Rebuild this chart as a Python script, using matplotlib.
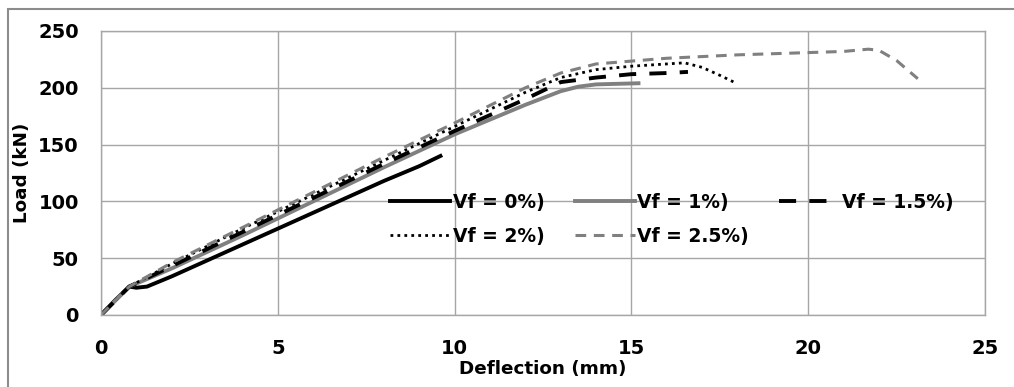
import matplotlib
matplotlib.use("Agg")
import matplotlib.pyplot as plt
from matplotlib.patches import Rectangle

plt.rcParams['font.family'] = ['DejaVu Sans']
plt.rcParams['font.weight'] = 'bold'

# load-deflection curves
x_0 = [0, 0.4, 0.8, 1.0, 1.3, 2, 3, 4, 5, 6, 7, 8, 9, 9.6]
y_0 = [0, 13, 25, 24, 25, 34, 48, 62, 76, 90, 104, 118, 131, 140]

x_1 = [0, 0.8, 2, 4, 6, 8, 10, 11, 12, 13, 13.5, 14, 15.2]
y_1 = [0, 25, 41, 70, 100, 130, 159, 172, 185, 197, 201, 203, 204]

x_15 = [0, 0.8, 2, 4, 6, 8, 10, 12, 13, 14, 15, 16, 16.6]
y_15 = [0, 25, 43, 73, 103, 133, 162, 190, 205, 209, 212, 213, 214]

x_2 = [0, 0.8, 2, 4, 6, 8, 10, 12, 13, 14, 15, 16, 16.5, 17, 17.5, 17.9]
y_2 = [0, 25, 45, 76, 106, 136, 166, 196, 209, 216, 219, 221, 222, 218, 211, 205]

x_25 = [0, 0.8, 2, 4, 6, 8, 10, 12, 13, 14, 16, 18, 20, 21, 21.7, 22, 22.5, 23.1]
y_25 = [0, 25, 46, 77, 108, 139, 169, 200, 213, 221, 226, 229, 231, 232, 234, 233, 224, 208]

labels = ['Vf = 0%)', 'Vf = 1%)', 'Vf = 1.5%)', 'Vf = 2%)', 'Vf = 2.5%)']

fig = plt.figure(figsize=(10.14, 3.87), dpi=100)
ax = fig.add_axes([101/1014, 72/387, 884/1014, 284/387])

# outer chart border
fig.patches.append(Rectangle((8/1014, -0.1), 1.2, (387 - 9)/387 + 0.1,
                             transform=fig.transFigure, fill=False,
                             edgecolor='#8c8c8c', linewidth=1.5))

grey = '#808080'
l0, = ax.plot(x_0, y_0, color='black', lw=2.8)
l1, = ax.plot(x_1, y_1, color=grey, lw=2.8)
l15, = ax.plot(x_15, y_15, color='black', lw=2.8, dashes=(4.4, 3.4))
l2, = ax.plot(x_2, y_2, color='black', lw=2.0, dashes=(1, 1.5))
l25, = ax.plot(x_25, y_25, color=grey, lw=2.2, dashes=(3.5, 2.5))

ax.set_xlim(0, 25)
ax.set_ylim(0, 250)
ax.set_xticks([0, 5, 10, 15, 20, 25])
ax.set_yticks([0, 50, 100, 150, 200, 250])
ax.grid(True, color='#a6a6a6', linewidth=1)
ax.set_axisbelow(True)
for s in ax.spines.values():
    s.set_color('#a6a6a6')
    s.set_linewidth(1)
ax.tick_params(length=0, labelsize=14, pad=17)
ax.tick_params(axis='y', pad=16)

ax.set_xlabel('Deflection (mm)', fontsize=13.2, fontweight='bold')
ax.xaxis.set_label_coords(0.5, -0.16)
ax.set_ylabel('Load (kN)', fontsize=13.2, fontweight='bold', labelpad=5)

# legend is filled column by column, so order the handles to read row-wise
order = [0, 3, 1, 4, 2]
handles = [l0, l1, l15, l2, l25]
ax.legend([handles[i] for i in order], [labels[i] for i in order],
          loc='upper left', bbox_to_anchor=(0.327, 0.43), ncol=3, frameon=False,
          fontsize=13.5, handlelength=3.2, handletextpad=0.15,
          columnspacing=1.6, labelspacing=0.8, borderaxespad=0, borderpad=0)

fig.savefig('out.png', dpi=100)
